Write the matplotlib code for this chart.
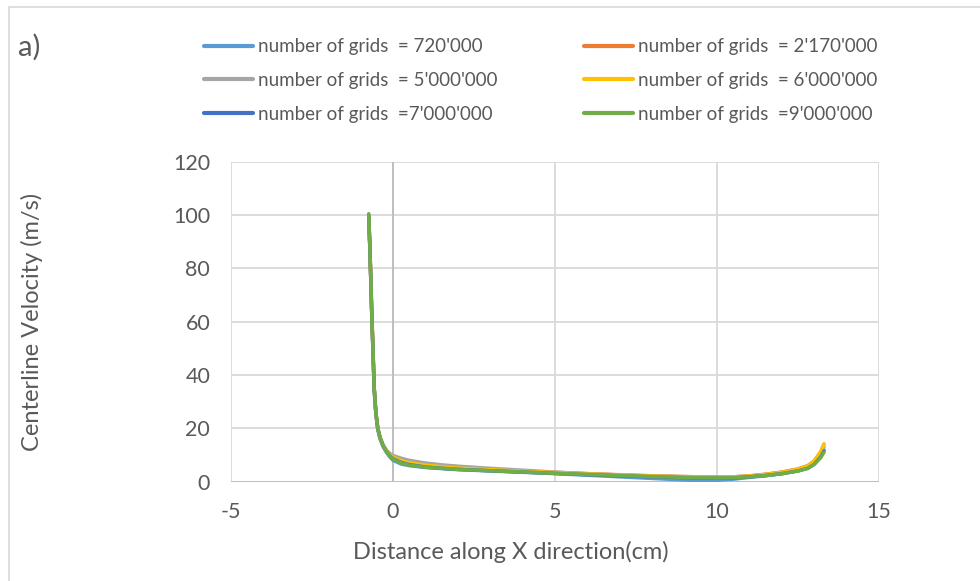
import matplotlib.pyplot as plt
from matplotlib.patches import Rectangle

# data
x = [-0.75, -0.72, -0.69, -0.66, -0.62, -0.58, -0.53, -0.47, -0.40, -0.30,
     -0.20, -0.10, 0.0, 0.25, 0.5, 1.0, 1.5, 2.0, 3.0, 4.0, 5.0, 6.0, 7.0,
     8.0, 9.0, 9.5, 10.0, 10.5, 11.0, 11.5, 12.0, 12.5, 12.8, 13.0, 13.2, 13.3]

v_720k = [99.5, 89, 77, 64, 49, 34, 25.5, 19.5, 16, 13, 11, 9.3, 8.0,
          6.6, 6.0, 5.3, 4.9, 4.5, 4.0, 3.5, 3.0, 2.4, 1.8, 1.2, 0.6, 0.4,
          0.5, 0.9, 1.6, 2.2, 3.0, 4.2, 5.3, 6.8, 9.5, 12.0]
v_2170k = [100, 90, 78, 65, 50, 35, 26, 20, 16.5, 13.5, 11.5, 10.2, 9.4,
           8.2, 7.4, 6.4, 5.8, 5.3, 4.6, 4.0, 3.5, 3.0, 2.6, 2.2, 1.9, 1.8,
           1.7, 1.8, 2.2, 2.8, 3.6, 4.8, 6.0, 7.8, 11.2, 14.0]
v_5000k = [100, 90, 78, 65, 50, 35, 26, 20, 16.5, 13.6, 11.8, 10.6, 9.8,
           8.8, 8.0, 7.0, 6.3, 5.8, 5.0, 4.3, 3.6, 3.0, 2.5, 2.1, 1.9, 1.8,
           1.7, 1.8, 2.1, 2.7, 3.5, 4.6, 5.8, 7.5, 10.5, 13.0]
v_6000k = [100, 90, 78, 65, 50, 35, 26, 20, 16.5, 13.5, 11.5, 10.0, 9.2,
           7.9, 7.1, 6.2, 5.6, 5.1, 4.5, 3.9, 3.4, 2.9, 2.5, 2.1, 1.8, 1.7,
           1.6, 1.7, 2.1, 2.7, 3.5, 4.7, 5.9, 7.7, 11.2, 14.2]
v_7000k = [100, 90, 78, 65, 50, 35, 26, 20, 16.5, 13.3, 11.2, 9.6, 8.6,
           7.2, 6.4, 5.5, 5.0, 4.6, 4.1, 3.6, 3.1, 2.6, 2.2, 1.8, 1.5, 1.4,
           1.3, 1.4, 1.8, 2.3, 3.0, 4.0, 5.0, 6.5, 9.3, 11.5]
v_9000k = [100.5, 90, 78, 65, 50, 35, 26, 20, 16.5, 13.3, 11.2, 9.5, 8.5,
           7.0, 6.2, 5.4, 5.0, 4.6, 4.1, 3.6, 3.1, 2.7, 2.3, 1.9, 1.6, 1.5,
           1.4, 1.5, 1.8, 2.3, 3.0, 4.0, 5.0, 6.5, 9.0, 11.0]

labels = ["number of grids  = 720'000", "number of grids  = 2'170'000",
          "number of grids  = 5'000'000", "number of grids  = 6'000'000",
          "number of grids  =7'000'000", "number of grids  =9'000'000"]
series = [v_720k, v_2170k, v_5000k, v_6000k, v_7000k, v_9000k]
colors = ["#5B9BD5", "#ED7D31", "#A5A5A5", "#FFC000", "#4472C4", "#70AD47"]

plt.rcParams["font.family"] = ["Lato", "DejaVu Sans"]
plt.rcParams["axes.unicode_minus"] = False
text_gray = "#595959"

fig = plt.figure(figsize=(9.8, 5.81), dpi=100)
ax = fig.add_axes([0.2357, 0.171, 0.6613, 0.5507])

lines = []
for vals, lab, col in zip(series, labels, colors):
    ln, = ax.plot(x, vals, color=col, lw=2.5, label=lab,
                  solid_capstyle="round", solid_joinstyle="round")
    lines.append(ln)

ax.set_xlim(-5, 15)
ax.set_ylim(0, 120)
ax.set_xticks([-5, 0, 5, 10, 15])
ax.set_yticks(range(0, 121, 20))
ax.grid(True, color="#D9D9D9", lw=1.3)
ax.set_axisbelow(True)
ax.axvline(0, color="#BFBFBF", lw=1.4, zorder=1)
ax.axhline(0, color="#BFBFBF", lw=1.4, zorder=1)
for s in ax.spines.values():
    s.set_visible(False)
ax.tick_params(length=0, labelsize=15.5, labelcolor=text_gray)
ax.tick_params(axis="y", pad=15)
ax.tick_params(axis="x", pad=15)
ax.set_xlabel("Distance along X direction(cm)", fontsize=17, color=text_gray)
ax.set_ylabel("Centerline Velocity (m/s)", fontsize=17, color=text_gray)
ax.xaxis.set_label_coords(0.432, -0.185)
ax.yaxis.set_label_coords(-0.29, 0.5)

# legend: two columns, three rows
leg_props = {"size": 13.5}
for col, x0 in enumerate([0.208, 0.596]):
    idx = [col, col + 2, col + 4]
    leg = fig.legend([lines[i] for i in idx], [labels[i] for i in idx],
                     loc="upper left", bbox_to_anchor=(x0, 0.934),
                     frameon=False, handlelength=2.6, handletextpad=0.27,
                     labelspacing=0.89, borderpad=0, borderaxespad=0,
                     prop=leg_props)
    for t in leg.get_texts():
        t.set_color(text_gray)
    for h in leg.get_lines():
        h.set_linewidth(3)

fig.text(0.018, 0.918, "a)", fontsize=21, color=text_gray, va="center")

# chart frame (only the top and left edges are visible in the crop)
fig.patches.append(Rectangle((9 / 980, -0.01), 1.1, 1 - 7 / 581 + 0.01,
                             transform=fig.transFigure, fill=False,
                             edgecolor="#D9D9D9", lw=1.2))

fig.savefig("out.png", dpi=100)
